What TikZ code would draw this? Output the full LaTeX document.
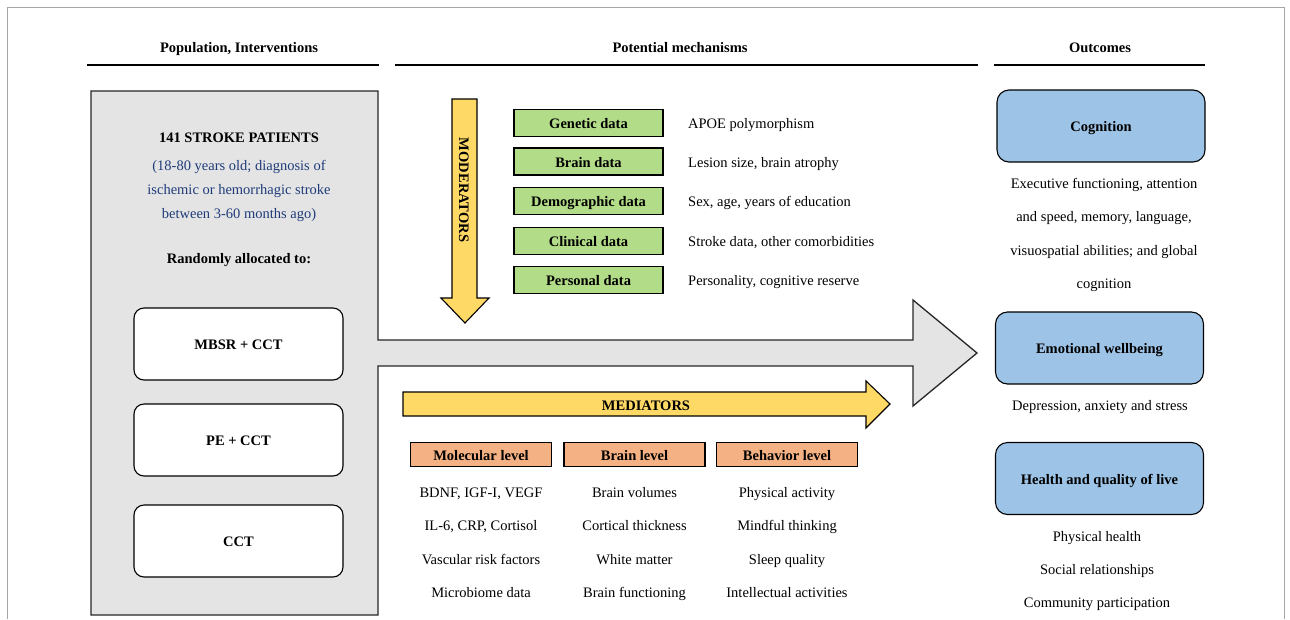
\documentclass[tikz,border=0pt]{standalone}
\usepackage{fontspec}
\setmainfont{Liberation Serif}
\definecolor{modgreen}{HTML}{B2DC88}
\definecolor{medorange}{HTML}{F4B183}
\definecolor{outblue}{HTML}{9DC3E6}
\definecolor{flowyellow}{HTML}{FFD966}
\definecolor{panelgray}{HTML}{E4E4E4}
\definecolor{noteblue}{HTML}{1F3C7A}

\begin{document}
\begin{tikzpicture}[x=1pt,y=-1pt,line join=miter,
    font=\fontsize{14.5}{17}\selectfont,
    txt/.style={inner sep=0pt,text height=12pt,text depth=1pt},
    head/.style={inner sep=0pt,text height=12pt,text depth=1pt,font=\fontsize{14.5}{17}\selectfont\bfseries},
    armbox/.style={draw=black,line width=1.1pt,fill=white,rounded corners=10pt,text height=12pt,text depth=1pt,
      minimum width=209pt,minimum height=72pt,font=\fontsize{14.5}{17}\selectfont\bfseries},
    modbox/.style={draw=black,line width=1.1pt,fill=modgreen,text height=12pt,text depth=1pt,
      minimum width=149pt,minimum height=27pt,inner sep=0pt,font=\fontsize{14.5}{17}\selectfont\bfseries},
    medbox/.style={draw=black,line width=1.1pt,fill=medorange,text height=12pt,text depth=1pt,
      minimum width=141pt,minimum height=24pt,inner sep=0pt,font=\fontsize{14.5}{17}\selectfont\bfseries},
    outbox/.style={draw=black,line width=1.1pt,fill=outblue,rounded corners=12pt,text height=12pt,text depth=1pt,
      minimum width=208pt,minimum height=72pt,font=\fontsize{14.5}{17}\selectfont\bfseries}]
  \useasboundingbox (0,0) rectangle (1290,619);

  % Thin outer frame (open at the bottom).
  \draw[gray!70,line width=0.8pt] (7,619) -- (7,7) -- (1284,7) -- (1284,619);

  % Column headings and rules.
  \node[head] (hpop) at (239,47) {Population, Interventions};
  \node[head] (hmech) at (680,47) {Potential mechanisms};
  \node[head] (hout) at (1100,47) {Outcomes};
  \draw[line width=1.2pt] (87,65) -- (379,65);
  \draw[line width=1.2pt] (395,65) -- (978,65);
  \draw[line width=1.2pt] (994,65) -- (1205,65);

  % Population panel merged with the main gray arrow.
  \draw[fill=panelgray,draw=black!85,line width=1.3pt]
    (91,91) -- (378,91) -- (378,340) -- (913,340) -- (913,300) -- (977,353)
    -- (913,406) -- (913,366) -- (378,366) -- (378,615) -- (91,615) -- cycle;

  \node[head] (pat) at (239,137) {141 STROKE PATIENTS};
  \node[txt,text=noteblue] (pat1) at (239,165) {(18-80 years old; diagnosis of};
  \node[txt,text=noteblue] (pat2) at (239,189) {ischemic or hemorrhagic stroke};
  \node[txt,text=noteblue] (pat3) at (239,213) {between 3-60 months ago)};
  \node[head] (alloc) at (239,258) {Randomly allocated to:};

  \node[armbox] (mbsr) at (238.5,344) {MBSR + CCT};
  \node[armbox] (pe) at (238.5,440) {PE + CCT};
  \node[armbox] (cct) at (238.5,541) {CCT};

  % Moderators arrow (down).
  \draw[fill=flowyellow,line width=1.1pt]
    (452,99) -- (477,99) -- (477,298) -- (489,298) -- (465,323) -- (441,298)
    -- (452,298) -- cycle;
  \node[head,rotate=-90] (modlab) at (464.5,190) {MODERATORS};

  \node[modbox] (gen) at (588.5,123) {Genetic data};
  \node[modbox] (brn) at (588.5,161.5) {Brain data};
  \node[modbox] (dem) at (588.5,201) {Demographic data};
  \node[modbox] (cli) at (588.5,241) {Clinical data};
  \node[modbox] (per) at (588.5,280) {Personal data};
  \node[txt,anchor=west] (gen-d) at (688,123) {APOE polymorphism};
  \node[txt,anchor=west] (brn-d) at (688,161.5) {Lesion size, brain atrophy};
  \node[txt,anchor=west] (dem-d) at (688,201) {Sex, age, years of education};
  \node[txt,anchor=west] (cli-d) at (688,241) {Stroke data, other comorbidities};
  \node[txt,anchor=west] (per-d) at (688,280) {Personality, cognitive reserve};

  % Mediators arrow (right).
  \draw[fill=flowyellow,line width=1.1pt]
    (403,392) -- (866,392) -- (866,381) -- (890,404) -- (866,428) -- (866,416)
    -- (403,416) -- cycle;
  \node[head] (medlab) at (646,405) {MEDIATORS};

  \node[medbox] (mol) at (481,454.5) {Molecular level};
  \node[medbox] (blv) at (634.5,454.5) {Brain level};
  \node[medbox] (beh) at (787,454.5) {Behavior level};

  \node[txt] (mol1) at (481,492) {BDNF, IGF-I, VEGF};
  \node[txt] (mol2) at (481,525) {IL-6, CRP, Cortisol};
  \node[txt] (mol3) at (481,559) {Vascular risk factors};
  \node[txt] (mol4) at (481,592) {Microbiome data};
  \node[txt] (blv1) at (634.5,492) {Brain volumes};
  \node[txt] (blv2) at (634.5,525) {Cortical thickness};
  \node[txt] (blv3) at (634.5,559) {White matter};
  \node[txt] (blv4) at (634.5,592) {Brain functioning};
  \node[txt] (beh1) at (787,492) {Physical activity};
  \node[txt] (beh2) at (787,525) {Mindful thinking};
  \node[txt] (beh3) at (787,559) {Sleep quality};
  \node[txt] (beh4) at (787,592) {Intellectual activities};

  % Outcomes.
  \node[outbox] (cog) at (1101,126) {Cognition};
  \node[outbox] (emo) at (1099.5,348) {Emotional wellbeing};
  \node[outbox] (hql) at (1099.5,478.5) {Health and quality of live};

  \node[txt] (cog1) at (1104,183) {Executive functioning, attention};
  \node[txt] (cog2) at (1104,216) {and speed, memory, language,};
  \node[txt] (cog3) at (1104,250) {visuospatial abilities; and global};
  \node[txt] (cog4) at (1104,283) {cognition};
  \node[txt] (emo1) at (1100,405) {Depression, anxiety and stress};
  \node[txt] (hql1) at (1097,536) {Physical health};
  \node[txt] (hql2) at (1097,569) {Social relationships};
  \node[txt] (hql3) at (1097,602) {Community participation};
\end{tikzpicture}
\end{document}
